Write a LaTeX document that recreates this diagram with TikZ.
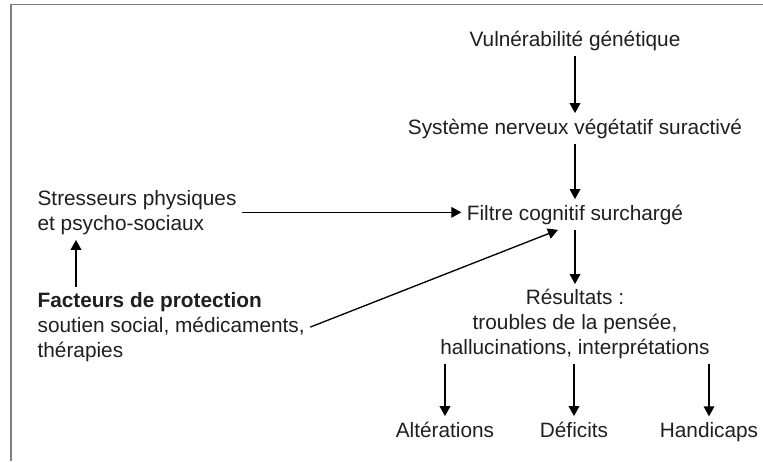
\documentclass[tikz,border=0pt]{standalone}
\usepackage{fontspec}
\setmainfont{Liberation Sans}
\usetikzlibrary{arrows.meta}

\begin{document}
\begin{tikzpicture}[
   x=0.75pt, y=-0.75pt,
   every node/.style={font=\fontsize{15.6}{18.4}\selectfont, text=black!88, inner sep=4pt},
   fleche/.style={draw=black, line width=1pt, -{Triangle[length=7.5pt,width=8pt]}},
   cadre/.style={draw=black!50, line width=1.1pt}]

\useasboundingbox (0,0) rectangle (763,461);
\draw[cadre] (763,4.5) -- (11,4.5) -- (11,461);

% colonne centrale
\node[anchor=base] (vuln)   at (575,46)  {Vulnérabilité génétique};
\node[anchor=base] (sys)    at (575,134) {Système nerveux végétatif suractivé};
\node[anchor=base] (filtre) at (575,220) {Filtre cognitif surchargé};
% base = derniere ligne
\node[anchor=base, align=center] (res) at (575,354)
    {Résultats :\\ troubles de la pensée,\\ hallucinations, interprétations};

\node[anchor=base] (alt)  at (445,437) {Altérations};
\node[anchor=base] (def)  at (574,437) {Déficits};
\node[anchor=base] (hand) at (709,437) {Handicaps};

% gauche
\node[anchor=base west, align=left] (stress) at (32,230)
    {Stresseurs physiques\\ et psycho-sociaux};
\node[anchor=base west, align=left] (prot) at (32,357)
    {\textbf{Facteurs de protection}\\ soutien social, médicaments,\\ thérapies};
\coordinate (up) at (76,0);

\draw[fleche] (vuln) -- (sys);
\draw[fleche] (sys) -- (filtre);
\draw[fleche] (filtre) -- (res);
\draw[fleche] (res.south -| alt)  -- (alt);
\draw[fleche] (res.south -| def)  -- (def);
\draw[fleche] (res.south -| hand) -- (hand);
\draw[fleche] (stress.east) -- (stress.east -| filtre.west);
\draw[fleche] (prot.north -| up) -- (stress.south -| up);
\draw[fleche] (prot.east) -- ([xshift=-12.75pt]filtre.south);

\end{tikzpicture}
\end{document}
